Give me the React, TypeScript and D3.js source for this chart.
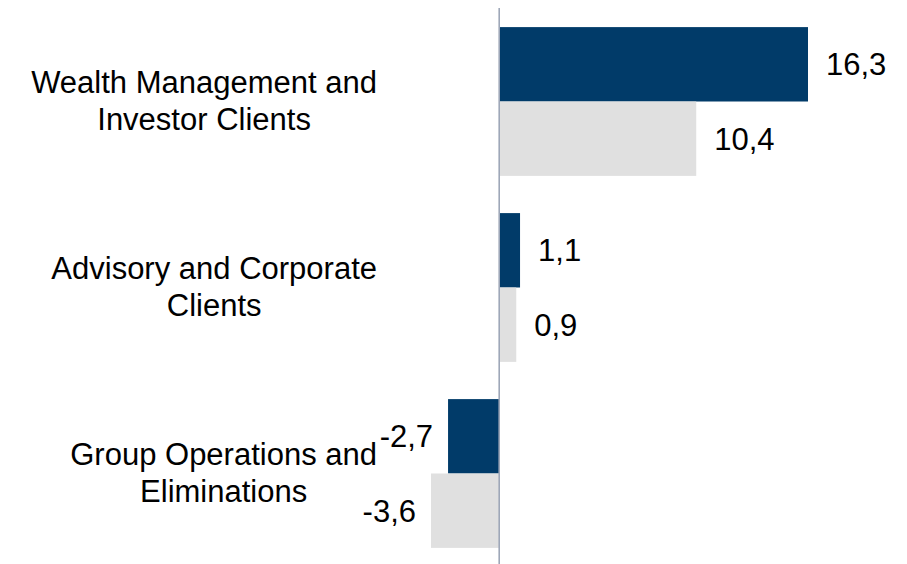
import * as d3 from "d3";
import React, { useRef, useEffect } from "react";

const width = 907;
const height = 564;
const font = "'Liberation Sans', Arial, sans-serif";

const categories = [
  "Wealth Management and Investor Clients",
  "Advisory and Corporate Clients",
  "Group Operations and Eliminations",
];
const labelLines = [
  ["Wealth Management and", "Investor Clients"],
  ["Advisory and Corporate", "Clients"],
  ["Group Operations and", "Eliminations"],
];
const seriesKeys = ["current", "previous"];
const currentValues = [16.3, 1.1, -2.7];
const previousValues = [10.4, 0.9, -3.6];
const seriesColors = ["#013b69", "#e0e0e0"];

const fmt = (v: number) => v.toFixed(1).replace(".", ",");

export default function App() {
  const ref = useRef<SVGSVGElement>(null);

  useEffect(() => {
    if (!ref.current) return;
    const svg = d3.select(ref.current);
    svg.selectAll("*").remove();

    const rows = categories.map((c, i) => ({
      cat: c,
      values: [currentValues[i], previousValues[i]],
    }));

    const y = d3.scaleBand()
      .domain(categories)
      .range([8.5, 566.5])
      .paddingInner(0.2)
      .paddingOuter(0.1);

    const ySub = d3.scaleBand()
      .domain(seriesKeys)
      .range([0, y.bandwidth()]);

    const allVals = currentValues.concat(previousValues);
    const x = d3.scaleLinear()
      .domain([d3.min(allVals)!, d3.max(allVals)!])
      .range([431, 808]);

    const g = svg.append("g");

    rows.forEach(r => {
      const gy = y(r.cat)!;
      r.values.forEach((v, j) => {
        const by = gy + ySub(seriesKeys[j])!;
        const x0 = x(Math.min(0, v));
        const x1 = x(Math.max(0, v));
        g.append("rect")
          .attr("x", x0)
          .attr("y", by)
          .attr("width", x1 - x0)
          .attr("height", ySub.bandwidth())
          .attr("fill", seriesColors[j]);

        g.append("text")
          .attr("x", v >= 0 ? x1 + 18 : x0 - 15)
          .attr("y", by + ySub.bandwidth() / 2)
          .attr("dy", "0.35em")
          .attr("text-anchor", v >= 0 ? "start" : "end")
          .attr("font-family", font)
          .attr("font-size", 31)
          .attr("fill", "#000")
          .text(fmt(v));
      });
    });

    // zero axis line
    svg.append("line")
      .attr("x1", x(0))
      .attr("x2", x(0))
      .attr("y1", 8)
      .attr("y2", height)
      .attr("stroke", "#9ea7b8")
      .attr("stroke-width", 1.6);

    // category labels: lines centred on the widest line, block right aligned
    const labelRight = 377;
    labelLines.forEach((lines, i) => {
      const cy = y(categories[i])! + y.bandwidth() / 2;
      const lg = svg.append("g");
      const texts = lines.map((line, k) =>
        lg.append("text")
          .attr("y", cy - 1 + (k - (lines.length - 1) / 2) * 37)
          .attr("dy", "0.35em")
          .attr("text-anchor", "middle")
          .attr("font-family", font)
          .attr("font-size", 31)
          .attr("fill", "#000")
          .text(line)
      );
      const maxW = d3.max(texts, t => (t.node() as SVGTextElement).getComputedTextLength())!;
      texts.forEach(t => t.attr("x", labelRight - maxW / 2));
    });
  }, []);

  return (
    <svg
      ref={ref}
      width={width}
      height={height}
      style={{ position: "absolute", left: 0, top: 0, background: "#fff" }}
    />
  );
}
